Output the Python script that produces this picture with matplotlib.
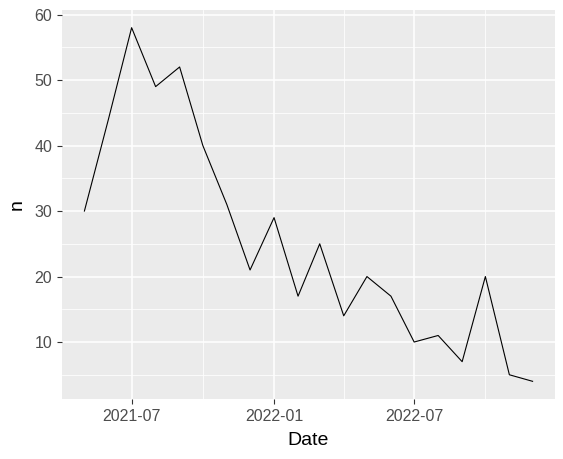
import matplotlib
matplotlib.use("Agg")
import matplotlib.pyplot as plt
import matplotlib.dates as mdates
from matplotlib.ticker import MultipleLocator, FixedLocator
import numpy as np
import datetime as dt

dates = ["2021-05-01", "2021-06-01", "2021-07-01", "2021-08-01", "2021-09-01",
         "2021-10-01", "2021-11-01", "2021-12-01", "2022-01-01", "2022-02-01",
         "2022-03-01", "2022-04-01", "2022-05-01", "2022-06-01", "2022-07-01",
         "2022-08-01", "2022-09-01", "2022-10-01", "2022-11-01", "2022-12-01"]
n_values = [30, 44, 58, 49, 52, 40, 31, 21, 29, 17,
            25, 14, 20, 17, 10, 11, 7, 20, 5, 4]
x_ticks = ["2021-07-01", "2022-01-01", "2022-07-01"]
x_minor = ["2021-04-01", "2021-10-01", "2022-04-01", "2022-10-01"]

plt.rcParams['font.family'] = ['Liberation Sans', 'DejaVu Sans']

xd = [dt.datetime.strptime(d, "%Y-%m-%d") for d in dates]

fig = plt.figure(figsize=(5.63, 4.59), dpi=100)
W, H = 563, 459
left, right, top, bottom = 62, 555, 10, 399
ax = fig.add_axes([left / W, 1 - bottom / H, (right - left) / W, (bottom - top) / H])
ax.set_facecolor("#EBEBEB")

ax.plot(xd, n_values, color="black", linewidth=0.8)

x0 = mdates.date2num(xd[0]); x1 = mdates.date2num(xd[-1])
pad = (x1 - x0) * 0.05
ax.set_xlim(x0 - pad, x1 + pad)
ymin, ymax = min(n_values), max(n_values)
ypad = (ymax - ymin) * 0.05
ax.set_ylim(ymin - ypad, ymax + ypad)

ax.xaxis.set_major_locator(FixedLocator([mdates.date2num(dt.datetime.strptime(d, "%Y-%m-%d")) for d in x_ticks]))
ax.xaxis.set_minor_locator(FixedLocator([mdates.date2num(dt.datetime.strptime(d, "%Y-%m-%d")) for d in x_minor]))
ax.xaxis.set_major_formatter(mdates.DateFormatter("%Y-%m"))
ax.yaxis.set_major_locator(MultipleLocator(10))
ax.yaxis.set_minor_locator(MultipleLocator(5))

ax.grid(which="major", color="white", linewidth=1.1)
ax.grid(which="minor", color="white", linewidth=0.55)
ax.set_axisbelow(True)
for s in ax.spines.values():
    s.set_visible(False)

ax.tick_params(which="major", length=3.5, width=0.8, color="#333333",
               labelcolor="#4D4D4D", labelsize=11.5, pad=3.5)
ax.tick_params(which="minor", length=0)

ax.set_xlabel("Date", fontsize=14, color="black", labelpad=6)
ax.set_ylabel("n", fontsize=14, color="black", labelpad=6)

fig.savefig("out.png", dpi=100, facecolor="white")
